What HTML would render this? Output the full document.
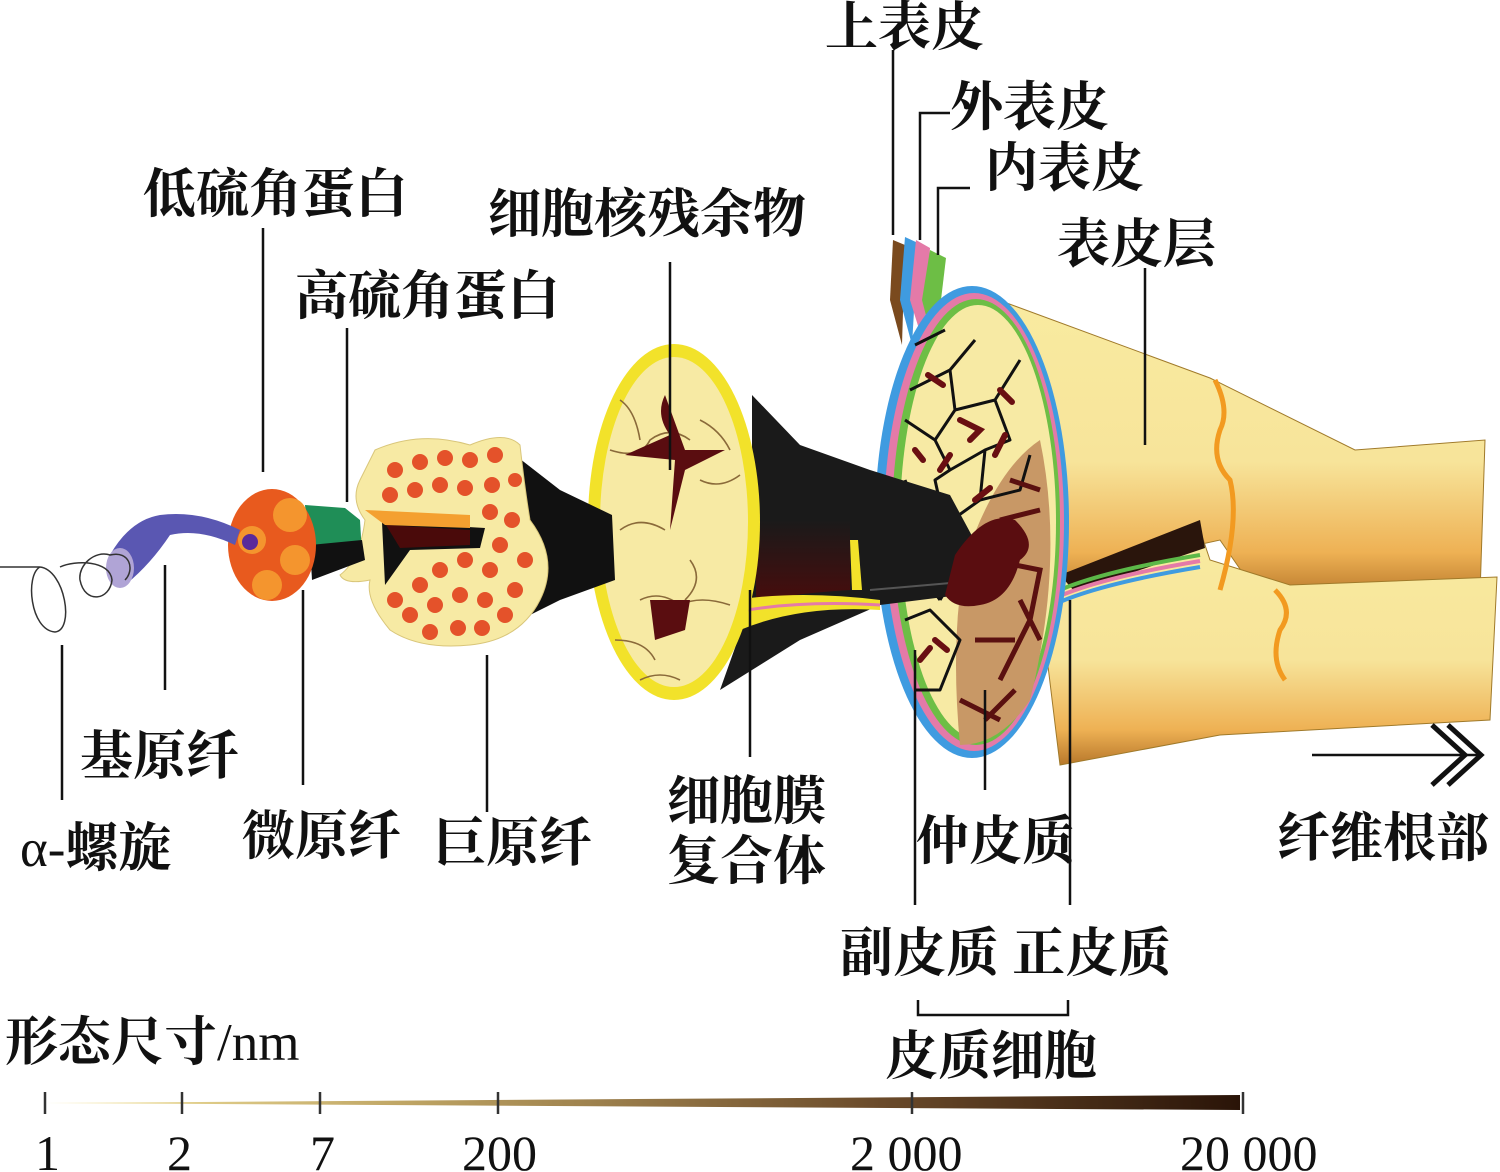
<!DOCTYPE html>
<html><head><meta charset="utf-8"><style>
html,body{margin:0;padding:0;background:#fff;}
svg{display:block;}
text{font-family:"Liberation Serif","Noto Serif CJK SC",serif;fill:#111;font-weight:bold;}
.n{font-weight:normal;}
</style></head><body>
<svg width="1500" height="1172" viewBox="0 0 1500 1172" xmlns="http://www.w3.org/2000/svg">
<defs>
<linearGradient id="sc" x1="0" x2="1" y1="0" y2="0">
<stop offset="0" stop-color="#f7e9a3"/><stop offset="0.3" stop-color="#bfa564"/><stop offset="0.7" stop-color="#6a4a2a"/><stop offset="1" stop-color="#2a1408"/></linearGradient>
<linearGradient id="yb" x1="0" x2="0" y1="0" y2="1">
<stop offset="0" stop-color="#f9eba0"/><stop offset="0.55" stop-color="#f7e49a"/><stop offset="0.85" stop-color="#eeb154"/><stop offset="1" stop-color="#b8782b"/></linearGradient>
<linearGradient id="dk" x1="0" x2="0" y1="0" y2="1">
<stop offset="0" stop-color="#1a1a1a"/><stop offset="1" stop-color="#4a0c0c"/></linearGradient>
</defs>

<polygon points="985,295 1210,378 1355,450 1485,440 1480,595 1260,598 1220,540 1060,575" fill="url(#yb)" stroke="#a07a2a" stroke-width="1"/>
<polygon points="1060,575 1200,530 1210,560 1290,585 1497,577 1490,720 1220,735 1060,765 1040,600" fill="url(#yb)" stroke="#a07a2a" stroke-width="1"/>
<path d="M1215,380 q15,30 5,50 q-10,30 10,50 q10,40 -10,110" fill="none" stroke="#f29a20" stroke-width="5"/>
<path d="M1275,590 q20,20 5,40 q-10,30 5,50" fill="none" stroke="#f29a20" stroke-width="5"/>
<polygon points="1060,575 1200,520 1205,548 1075,592" fill="#2a150c"/>
<path d="M1040,600 q40,-25 160,-45" fill="none" stroke="#5cb848" stroke-width="4"/>
<path d="M1040,606 q40,-25 160,-45" fill="none" stroke="#e47aa8" stroke-width="4"/>
<path d="M1040,612 q40,-25 160,-45" fill="none" stroke="#3f9be0" stroke-width="4"/>

<polygon points="890,300 893,240 905,245 902,345" fill="#7a4a1e"/>
<polygon points="900,300 905,237 918,243 912,345" fill="#3f9be0"/>
<polygon points="910,300 916,240 930,248 924,345" fill="#e47aa8"/>
<polygon points="922,300 930,250 946,258 935,350" fill="#6dbe45"/>

<ellipse cx="972" cy="522" rx="97" ry="236" fill="#3f9be0"/>
<ellipse cx="974" cy="522" rx="90" ry="229" fill="#e47aa8"/>
<ellipse cx="976" cy="522" rx="84" ry="223" fill="#6dbe45"/>
<ellipse cx="978" cy="522" rx="78" ry="217" fill="#f7eaa4"/>
<path d="M1040,440 Q1065,560 1030,700 Q1000,745 960,745 Q950,640 965,560 Q995,470 1040,440 Z" fill="#c89866"/>
<g stroke="#111" stroke-width="3" fill="none" stroke-linejoin="round">
<path d="M915,345 L945,330 M910,390 L950,370 L975,340 M950,370 L955,410 L935,440 L905,420 M955,410 L995,400 L1020,360 M995,400 L1010,440 L985,450 L950,470 L935,440 M985,450 L980,500 L945,525 L935,480 L950,470 M980,500 L1020,490 L1030,455 M945,525 L920,520 L905,480 M945,525 L955,575 L940,600 M910,560 L940,600"/>
<path d="M905,620 L930,610 L960,640 L940,690 L915,690"/>
</g>
<g stroke="#6a0f12" stroke-width="6" fill="none" stroke-linecap="round">
<path d="M928,375 l15,10 M960,420 l20,10 l-10,10 M940,470 l10,-15 M1000,390 l12,12 M915,450 l8,10 M975,500 l15,-12 M935,640 l12,10 M920,660 l10,-12 M925,545 l12,-8 M1005,435 l-10,20"/>
</g>
<g stroke="#5a1010" stroke-width="5" fill="none">
<path d="M990,560 L1040,570 L1030,620 L1000,680 M1020,600 l20,40 M975,640 l40,0 M960,700 l40,20 M985,720 l30,-30 M1010,480 l30,10 M1000,520 l40,-10"/>
</g>

<polygon points="752,395 800,445 870,470 950,495 985,560 960,595 880,605 800,640 720,690 752,600" fill="#1a1a1a"/>
<path d="M756,520 L756,605 Q770,595 850,590 L850,520 Z" fill="url(#dk)"/>
<path d="M870,590 L985,580" stroke="#555" stroke-width="2"/>
<path d="M955,555 Q985,510 1015,520 Q1040,545 1020,560 Q1010,600 980,605 Q955,610 945,595 Z" fill="#5a0d10"/>
<path d="M735,600 Q800,590 880,600 L880,610 Q800,605 740,630 Q725,650 725,660 Z" fill="#f2e22a"/>
<path d="M735,612 Q800,600 880,605" stroke="#e47aa8" stroke-width="3" fill="none"/>
<path d="M850,540 L858,540 L862,590 L852,590 Z" fill="#f2e22a"/>

<ellipse cx="674" cy="522" rx="86" ry="178" fill="#f2e22a"/>
<ellipse cx="674" cy="522" rx="74" ry="165" fill="#f7eaa4"/>
<g stroke="#8a6a3a" stroke-width="1.6" fill="none">
<path d="M610,450 q30,10 40,-10 q20,-15 40,0 M620,530 q20,-15 45,0 M700,480 q20,10 40,-5 M640,600 q20,-10 40,5 q20,-10 50,0 M615,640 q30,0 40,20 M700,420 q20,10 30,30 M690,560 q15,20 -5,40 M620,400 q15,10 20,40 M640,680 q20,-10 40,0"/>
</g>
<path d="M665,395 q-10,20 5,40 l-45,20 l50,5 l-5,70 l15,-60 l40,-20 l-40,0 z" fill="#5a0d10"/>
<path d="M650,600 l40,0 l-5,30 l-30,10 z" fill="#5a0d10"/>

<polygon points="515,455 560,490 612,515 615,580 560,600 520,620" fill="#111"/>

<path d="M375,450 Q420,430 470,445 Q505,430 520,445 Q525,490 530,520 Q560,560 540,600 Q520,640 470,645 Q420,650 390,630 Q365,600 370,580 Q345,585 340,575 Q360,560 365,520 Q350,500 360,480 Z" fill="#f7eaa4" stroke="#d9c67a"/>
<g fill="#e4522a">
<circle cx="395" cy="470" r="8"/><circle cx="420" cy="462" r="8"/><circle cx="445" cy="458" r="8"/><circle cx="470" cy="460" r="8"/><circle cx="495" cy="455" r="8"/>
<circle cx="390" cy="495" r="8"/><circle cx="415" cy="490" r="8"/><circle cx="440" cy="485" r="8"/><circle cx="465" cy="488" r="8"/><circle cx="492" cy="485" r="8"/><circle cx="515" cy="480" r="7"/>
<circle cx="490" cy="512" r="8"/><circle cx="512" cy="520" r="8"/><circle cx="500" cy="545" r="8"/><circle cx="525" cy="560" r="8"/>
<circle cx="395" cy="600" r="8"/><circle cx="420" cy="585" r="8"/><circle cx="440" cy="570" r="8"/><circle cx="465" cy="560" r="8"/><circle cx="490" cy="570" r="8"/><circle cx="515" cy="590" r="8"/>
<circle cx="410" cy="615" r="8"/><circle cx="435" cy="605" r="8"/><circle cx="460" cy="595" r="8"/><circle cx="485" cy="600" r="8"/><circle cx="505" cy="615" r="8"/>
<circle cx="430" cy="632" r="8"/><circle cx="458" cy="628" r="8"/><circle cx="482" cy="628" r="8"/><circle cx="470" cy="540" r="7"/>
</g>
<polygon points="382,522 485,528 480,548 410,550 385,585" fill="#111"/>
<polygon points="386,525 470,530 470,545 400,548" fill="#4a0a0a"/>
<polygon points="365,510 470,515 470,528 385,525" fill="#f4a030"/>

<polygon points="305,505 345,508 360,520 362,555 310,560" fill="#1f8e57"/>
<polygon points="310,545 362,540 365,560 312,580" fill="#111"/>
<ellipse cx="272" cy="545" rx="44" ry="56" fill="#e85a1e"/>
<circle cx="290" cy="515" r="17" fill="#f4952e"/>
<circle cx="295" cy="560" r="15" fill="#f4952e"/>
<circle cx="267" cy="585" r="15" fill="#f4952e"/>
<circle cx="252" cy="540" r="14" fill="#f4952e"/>
<circle cx="250" cy="542" r="8" fill="#5a2a9a"/>

<path d="M110,555 Q130,520 160,515 Q200,510 240,530 L235,545 Q200,528 170,535 Q150,565 125,585 Z" fill="#5a57b2"/>
<ellipse cx="120" cy="568" rx="14" ry="20" fill="#b0a4d6"/>

<path d="M0,567 L40,567 M40,567 C25,575 30,630 55,632 C75,630 65,570 40,567 M60,567 C75,560 110,560 112,580 C110,600 85,605 80,580 C78,565 95,550 110,555 C130,550 135,570 125,580" fill="none" stroke="#333" stroke-width="1.5"/>

<g stroke="#111" stroke-width="2.5" fill="none">
<path d="M893,50 V235"/>
<path d="M950,113 H920 V240"/>
<path d="M970,188 H938 V255"/>
<path d="M1145,268 V445"/>
<path d="M263,228 V472"/>
<path d="M670,262 V470"/>
<path d="M347,328 V502"/>
<path d="M165,565 V690"/>
<path d="M62,645 V800"/>
<path d="M303,590 V785"/>
<path d="M487,655 V812"/>
<path d="M750,590 V757"/>
<path d="M985,690 V790"/>
<path d="M915,650 V905"/>
<path d="M1070,600 V905"/>
<path d="M918,1000 V1015 H1068 V1000"/>
<path d="M1312,755 H1478"/>
<path d="M1432,725 L1465,755 L1432,785 M1448,725 L1481,755 L1448,785" stroke-width="5"/>
</g>

<polygon points="45,1103 1240,1095 1240,1110" fill="url(#sc)"/>
<g stroke="#333" stroke-width="2.5">
<path d="M45,1092 V1114 M182,1092 V1114 M320,1092 V1114 M498,1092 V1114 M912,1092 V1114 M1243,1092 V1114"/>
</g>

<g font-size="53">
<text x="825" y="45">上表皮</text>
<text x="950" y="125">外表皮</text>
<text x="985" y="186">内表皮</text>
<text x="1057" y="262">表皮层</text>
<text x="143" y="212">低硫角蛋白</text>
<text x="488" y="232">细胞核残余物</text>
<text x="295" y="314">高硫角蛋白</text>
<text x="80" y="774">基原纤</text>
<text x="20" y="866"><tspan class="n">α-</tspan>螺旋</text>
<text x="242" y="854">微原纤</text>
<text x="433" y="861">巨原纤</text>
<text x="667" y="819">细胞膜</text>
<text x="667" y="879">复合体</text>
<text x="916" y="859">仲皮质</text>
<text x="1277" y="856">纤维根部</text>
<text x="840" y="971">副皮质 正皮质</text>
<text x="5" y="1060">形态尺寸<tspan class="n">/nm</tspan></text>
<text x="885" y="1074">皮质细胞</text>
</g>
<g font-size="50">
<text class="n" x="35" y="1170">1</text>
<text class="n" x="167" y="1170">2</text>
<text class="n" x="310" y="1170">7</text>
<text class="n" x="462" y="1170">200</text>
<text class="n" x="850" y="1170">2 000</text>
<text class="n" x="1180" y="1170">20 000</text>
</g>
</svg>
</body></html>
